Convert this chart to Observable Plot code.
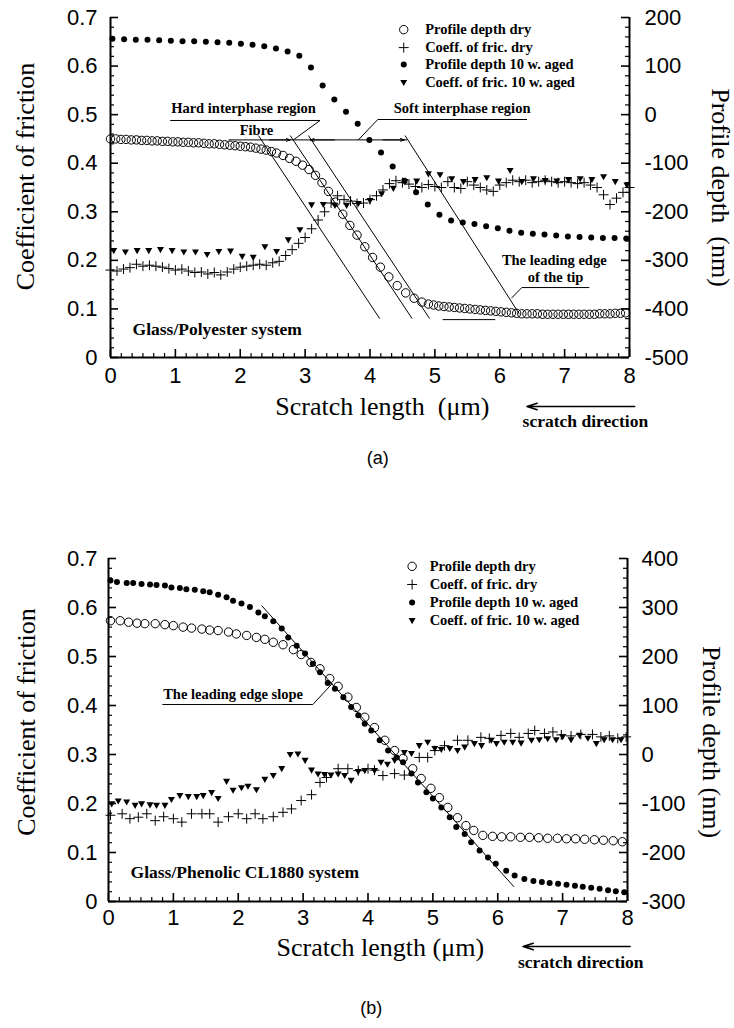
<!DOCTYPE html>
<html>
<head>
<meta charset="utf-8">
<script src="https://cdn.jsdelivr.net/npm/d3@7"></script>
<script src="https://cdn.jsdelivr.net/npm/@observablehq/plot@0.6"></script>
<style>
  body { margin: 0; background: #fff; }
  #chart { width: 734px; }
  #chart svg { display: block; }
</style>
</head>
<body>
<div id="chart"></div>
<script>
// ---------------- shared axis values ----------------
const xTickValues = [0, 1, 2, 3, 4, 5, 6, 7, 8];
const xTickLabels = ["0", "1", "2", "3", "4", "5", "6", "7", "8"];
const cofTickValues = [0, 0.1, 0.2, 0.3, 0.4, 0.5, 0.6, 0.7];
const cofTickLabels = ["0", "0.1", "0.2", "0.3", "0.4", "0.5", "0.6", "0.7"];
const depthTickValuesA = [-500, -400, -300, -200, -100, 0, 100, 200];
const depthTickLabelsA = ["-500", "-400", "-300", "-200", "-100", "0", "100", "200"];
const depthTickValuesB = [-300, -200, -100, 0, 100, 200, 300, 400];
const depthTickLabelsB = ["-300", "-200", "-100", "0", "100", "200", "300", "400"];
const seriesNames = ["Profile depth dry", "Coeff. of fric. dry", "Profile depth 10 w. aged", "Coeff. of fric. 10 w. aged"];

// ---------------- panel (a): Glass/Polyester ----------------
const aDryDepthX = [0,0.08,0.16,0.24,0.32,0.40,0.48,0.56,0.64,0.72,0.80,0.88,0.96,1.04,1.12,1.20,1.28,1.36,1.44,1.52,1.60,1.68,1.76,1.84,1.92,2.00,2.08,2.16,2.24,2.32,2.40,2.48,2.56,
  2.66,2.76,2.86,2.96,3.06,3.16,3.26,3.36,3.47,3.58,3.69,3.80,3.92,4.04,4.16,4.29,4.42,4.55,4.68,4.80,4.90,
  4.98,5.06,5.14,5.22,5.30,5.38,5.46,5.54,5.62,5.70,5.78,5.86,5.94,6.02,6.10,6.18,6.26,6.34,6.42,6.50,6.58,6.66,6.74,6.82,6.90,6.98,7.06,7.14,7.22,7.30,7.38,7.46,7.54,7.62,7.70,7.78,7.86,7.94];
const aDryDepthNm = [-50,-50,-51,-51,-52,-52,-53,-53,-54,-54,-55,-55,-56,-56,-57,-57,-58,-58,-59,-60,-60,-61,-62,-63,-64,-65,-66,-67,-69,-71,-73,-76,-79,
  -84,-90,-96,-104,-113,-125,-140,-158,-180,-205,-228,-248,-272,-294,-314,-334,-352,-367,-378,-386,-390,
  -392,-394,-395,-396,-397,-398,-399,-400,-401,-402,-403,-404,-405,-406,-407,-408,-409,-410,-410,-410,-410,-411,-411,-411,-411,-411,-411,-411,-411,-411,-411,-411,-410,-410,-410,-409,-409,-408];
const aAgedDepthX = [0.03,0.21,0.39,0.57,0.75,0.93,1.11,1.29,1.47,1.65,1.83,2.01,2.19,2.37,2.55,2.73,2.91,3.09,3.27,3.45,3.63,3.81,3.99,4.17,4.35,4.53,4.71,4.89,5.07,5.25,5.43,5.61,5.79,5.97,6.15,6.33,6.51,6.69,6.87,7.05,7.23,7.41,7.59,7.77,7.95];
const aAgedDepthNm = [156,155,154,154,153,152,151,151,150,149,148,146,144,141,136,130,121,97,60,31,6,-19,-52,-78,-107,-136,-160,-185,-206,-218,-222,-225,-230,-234,-239,-243,-245,-247,-249,-251,-252,-253,-254,-254,-255];
const aDryCofX = [0,0.1,0.2,0.3,0.4,0.5,0.6,0.7,0.8,0.9,1.0,1.1,1.2,1.3,1.4,1.5,1.6,1.7,1.8,1.9,2.0,2.1,2.2,2.3,2.4,2.5,2.6,2.7,2.8,2.9,3.0,3.1,3.2,3.3,3.4,3.5,3.6,3.7,3.8,3.9,4.0,4.1,4.2,4.3,4.4,4.5,4.6,4.7,4.8,4.9,5.0,5.1,5.2,5.3,5.4,5.5,5.6,5.7,5.8,5.9,6.0,6.1,6.2,6.3,6.4,6.5,6.6,6.7,6.8,6.9,7.0,7.1,7.2,7.3,7.4,7.5,7.6,7.7,7.8,7.9,8.0];
const aDryCof = [0.180,0.178,0.182,0.185,0.192,0.188,0.190,0.188,0.186,0.183,
  0.180,0.182,0.178,0.175,0.176,0.172,0.175,0.170,0.176,0.182,
  0.186,0.188,0.190,0.192,0.190,0.195,0.198,0.210,0.222,0.235,
  0.247,0.265,0.283,0.300,0.318,0.333,0.325,0.322,0.317,0.318,
  0.325,0.333,0.345,0.358,0.364,0.360,0.357,0.352,0.350,0.356,
  0.352,0.350,0.362,0.350,0.348,0.362,0.355,0.350,0.345,0.342,
  0.355,0.360,0.365,0.362,0.365,0.360,0.362,0.365,0.362,0.360,
  0.362,0.360,0.358,0.360,0.355,0.350,0.335,0.315,0.328,0.340,
  0.350];
const aAgedCofX = [0.05,0.23,0.41,0.59,0.77,0.95,1.13,1.31,1.49,1.67,1.85,2.03,2.20,2.38,2.56,2.74,2.92,3.10,3.28,3.46,3.64,3.82,4.00,4.18,4.36,4.54,4.72,4.90,5.08,5.26,5.44,5.62,5.80,5.98,6.16,6.34,6.52,6.70,6.88,7.06,7.24,7.42,7.60,7.78,7.96];
const aAgedCof = [0.220,0.217,0.220,0.220,0.222,0.220,0.217,0.217,0.212,0.218,0.219,0.208,0.206,0.228,0.218,0.242,0.263,0.314,0.315,0.313,0.313,0.317,0.323,0.337,0.348,0.362,0.363,0.378,0.376,0.368,0.362,0.366,0.370,0.363,0.385,0.362,0.368,0.364,0.363,0.366,0.368,0.366,0.372,0.362,0.355];

// ---------------- panel (b): Glass/Phenolic CL1880 ----------------
const bDryDepthX = [0.03,0.18,0.31,0.44,0.56,0.72,0.87,1.00,1.15,1.28,1.44,1.56,1.69,1.85,1.97,2.13,2.28,2.41,2.54,2.69,2.85,2.97,3.12,3.26,3.41,3.54,3.69,3.82,3.95,4.10,4.26,4.41,4.54,4.69,4.82,4.97,5.10,5.23,5.38,5.51,5.63,5.77,5.92,6.06,6.20,6.35,6.49,6.63,6.77,6.92,7.06,7.20,7.34,7.49,7.63,7.78,7.92];
const bDryDepthNm = [273,273,270,268,267,267,265,263,260,258,256,254,253,250,246,243,239,235,229,224,214,204,188,175,155,139,117,96,76,55,29,8,-8,-29,-49,-69,-88,-108,-129,-145,-155,-165,-167,-168,-168,-169,-169,-170,-171,-171,-172,-172,-173,-174,-175,-176,-178];
const bAgedDepthX = [0.03,0.13,0.28,0.38,0.51,0.64,0.74,0.87,0.97,1.10,1.20,1.33,1.46,1.56,1.69,1.82,1.92,2.05,2.18,2.31,2.41,2.54,2.67,2.77,2.90,3.03,3.15,3.26,3.38,3.49,3.62,3.74,3.85,3.95,4.05,4.18,4.31,4.44,4.54,4.67,4.77,4.90,5.00,5.13,5.26,5.36,5.49,5.59,5.72,5.85,5.97,6.13,6.26,6.41,6.55,6.68,6.80,6.93,7.06,7.19,7.31,7.44,7.57,7.70,7.82,7.95];
const bAgedDepthNm = [355,352,350,350,348,347,346,345,341,340,337,336,333,331,326,321,314,308,301,290,282,272,257,239,222,206,185,168,146,134,117,97,80,63,49,29,8,-6,-16,-39,-57,-77,-90,-108,-128,-148,-162,-179,-196,-210,-223,-237,-247,-254,-258,-260,-262,-264,-266,-268,-270,-272,-274,-277,-279,-281];
const bDryCofX = [0.03,0.21,0.33,0.46,0.59,0.72,0.85,1.00,1.13,1.28,1.44,1.56,1.69,1.85,2.00,2.13,2.26,2.38,2.54,2.69,2.82,2.97,3.13,3.26,3.36,3.54,3.69,3.85,4.00,4.10,4.23,4.41,4.56,4.79,4.92,5.03,5.18,5.38,5.54,5.74,5.87,6.05,6.20,6.33,6.47,6.57,6.72,6.85,6.98,7.13,7.28,7.46,7.59,7.72,7.85,7.98];
const bDryCof = [0.176,0.179,0.169,0.172,0.179,0.165,0.173,0.169,0.162,0.179,0.179,0.179,0.162,0.173,0.179,0.169,0.179,0.169,0.173,0.182,0.189,0.206,0.218,0.243,0.253,0.271,0.271,0.267,0.271,0.268,0.257,0.261,0.258,0.294,0.294,0.308,0.318,0.329,0.329,0.335,0.333,0.339,0.343,0.335,0.343,0.349,0.343,0.346,0.340,0.338,0.341,0.341,0.336,0.338,0.333,0.336];
const bAgedCofX = [0.05,0.15,0.28,0.41,0.51,0.64,0.74,0.87,0.97,1.10,1.23,1.36,1.46,1.59,1.69,1.82,1.92,2.05,2.15,2.28,2.41,2.54,2.67,2.80,2.92,3.03,3.13,3.23,3.33,3.43,3.54,3.64,3.74,3.85,3.95,4.10,4.20,4.30,4.41,4.56,4.67,4.79,4.92,5.03,5.13,5.26,5.38,5.49,5.64,5.75,5.90,5.98,6.10,6.23,6.36,6.52,6.64,6.77,6.90,7.00,7.13,7.26,7.39,7.52,7.64,7.77,7.90];
const bAgedCof = [0.199,0.205,0.203,0.196,0.199,0.197,0.196,0.196,0.208,0.216,0.214,0.214,0.216,0.222,0.210,0.245,0.227,0.232,0.235,0.228,0.249,0.257,0.271,0.300,0.301,0.288,0.268,0.260,0.259,0.258,0.260,0.257,0.247,0.265,0.267,0.267,0.284,0.280,0.288,0.304,0.302,0.318,0.325,0.312,0.310,0.312,0.308,0.315,0.322,0.318,0.329,0.322,0.325,0.325,0.323,0.329,0.330,0.332,0.330,0.336,0.330,0.339,0.333,0.322,0.330,0.330,0.330];

// ---------------- annotations (positions in data units) ----------------
const aGuideLines = [
  {x1: 2.28, y1: 0.457, x2: 4.15, y2: 0.08},
  {x1: 2.77, y1: 0.457, x2: 4.65, y2: 0.08},
  {x1: 3.05, y1: 0.457, x2: 4.92, y2: 0.08},
  {x1: 4.54, y1: 0.457, x2: 6.30, y2: 0.09},
  {x1: 1.82, y1: 0.448, x2: 4.57, y2: 0.448},
  {x1: 0.92, y1: 0.488, x2: 3.23, y2: 0.488},
  {x1: 3.23, y1: 0.488, x2: 2.82, y2: 0.448},
  {x1: 4.12, y1: 0.490, x2: 6.42, y2: 0.490},
  {x1: 4.12, y1: 0.490, x2: 3.82, y2: 0.448},
  {x1: 6.34, y1: 0.144, x2: 7.38, y2: 0.144},
  {x1: 6.34, y1: 0.144, x2: 6.18, y2: 0.122},
  {x1: 5.12, y1: 0.078, x2: 5.93, y2: 0.078}
];
const aDimArrows = [
  {x1: 2.45, y1: 0.448, x2: 2.77, y2: 0.448},
  {x1: 3.45, y1: 0.448, x2: 3.08, y2: 0.448},
  {x1: 4.20, y1: 0.448, x2: 4.53, y2: 0.448}
];
const aLabels = [
  {text: "Hard interphase region", x: 2.05, y: 0.512},
  {text: "Fibre", x: 2.25, y: 0.467},
  {text: "Soft interphase region", x: 5.42, y: 0.512},
  {text: "The leading edge", x: 6.84, y: 0.200},
  {text: "of the tip", x: 6.86, y: 0.165}
];
const bGuideLines = [
  {x1: 2.36, y1: 0.604, x2: 6.25, y2: 0.03},
  {x1: 0.83, y1: 0.402, x2: 3.15, y2: 0.402},
  {x1: 3.15, y1: 0.402, x2: 3.45, y2: 0.445}
];
const bLabels = [
  {text: "The leading edge slope", x: 1.92, y: 0.422}
];

const SERIF = "'Liberation Serif', 'Times New Roman', serif";
const SANS = "'Liberation Sans', Arial, Helvetica, sans-serif";

const triangleDown = {
  draw(context, size) {
    const r = Math.sqrt(size / Math.PI);
    context.moveTo(-r, -r * 0.75);
    context.lineTo(r, -r * 0.75);
    context.lineTo(0, r * 1.0);
    context.closePath();
  }
};

function makePanel(p) {
  const W = 734;
  const pw = W - p.ml - p.mr;
  const ph = p.h - p.mt - p.mb;
  const toY = nm => (nm - p.depthAtZero) / 1000;
  const rows = (xs, vs) => xs.map((x, i) => ({x, v: vs[i]}));
  const dryDepth = rows(p.dryDepthX, p.dryDepth);
  const agedDepth = rows(p.agedDepthX, p.agedDepth);
  const dryCof = rows(p.dryCofX, p.dryCof);
  const agedCof = rows(p.agedCofX, p.agedCof);
  const minorY = d3.range(0, 36).map(i => +(i * 0.02).toFixed(2)).filter(v => Math.abs(v * 10 - Math.round(v * 10)) > 1e-6);
  const minorX = d3.range(0, 49).map(i => i / 6).filter(v => Math.abs(v - Math.round(v)) > 1e-6);
  const legend = seriesNames.map((name, i) => ({name, i, y: p.legendY[i]}));
  const depthTicks = p.depthTicks.map((v, i) => ({y: toY(v), label: p.depthLabels[i]}));
  const cofTicks = cofTickValues.map((v, i) => ({y: v, label: cofTickLabels[i]}));
  const xTicks = xTickValues.map((v, i) => ({x: v, label: xTickLabels[i]}));
  const sym = [
    {symbol: "circle", r: 4.2, fill: "none", stroke: "black"},
    {symbol: "plus", r: 3.3, fill: "none", stroke: "black"},
    {symbol: "circle", r: 3.0, fill: "black", stroke: "none"},
    {symbol: triangleDown, r: 3.5, fill: "black", stroke: "none"}
  ];
  return Plot.plot({
    width: W,
    height: p.h,
    marginLeft: p.ml,
    marginRight: p.mr,
    marginTop: p.mt,
    marginBottom: p.mb,
    x: {domain: [0, 8], axis: null},
    y: {domain: [0, 0.7], axis: null},
    style: {fontFamily: SANS, background: "white", overflow: "visible"},
    marks: [
      // ticks (inward)
      Plot.tickY(minorY, {y: d => d, insetRight: pw - 4, stroke: "black", strokeWidth: 1.2}),
      Plot.tickY(cofTicks, {y: "y", insetRight: pw - 8, stroke: "black", strokeWidth: 1.6}),
      Plot.tickY(minorY, {y: d => d, insetLeft: pw - 4, stroke: "black", strokeWidth: 1.2}),
      Plot.tickY(depthTicks, {y: "y", insetLeft: pw - 8, stroke: "black", strokeWidth: 1.6}),
      Plot.tickX(minorX, {x: d => d, insetTop: ph - 4, stroke: "black", strokeWidth: 1.2}),
      Plot.tickX(xTicks, {x: "x", insetTop: ph - 8, stroke: "black", strokeWidth: 1.6}),
      // axis lines
      Plot.ruleX([0, 8], {y1: 0, y2: 0.7, stroke: "black", strokeWidth: 2}),
      Plot.ruleY([0], {stroke: "black", strokeWidth: 2}),
      // tick labels
      Plot.text(cofTicks, {y: "y", text: "label", frameAnchor: "left", dx: p.leftLabelDx, textAnchor: "end", fontSize: 22, fontFamily: SANS}),
      Plot.text(depthTicks, {y: "y", text: "label", frameAnchor: "right", dx: p.rightLabelDx, textAnchor: "start", fontSize: 22, fontFamily: SANS}),
      Plot.text(xTicks, {x: "x", text: "label", frameAnchor: "bottom", dy: p.xLabelDy, textAnchor: "middle", fontSize: 22, fontFamily: SANS}),
      // axis titles
      Plot.text(["Coefficient of friction"], {frameAnchor: "left", dx: p.leftTitleDx, dy: p.leftTitleDy, rotate: -90, textAnchor: "middle", fontSize: 26, fontFamily: SERIF}),
      Plot.text([p.rightTitle], {frameAnchor: "right", dx: p.rightTitleDx, dy: p.rightTitleDy, rotate: 90, textAnchor: "middle", fontSize: 26, fontFamily: SERIF}),
      Plot.text([p.xTitle], {x: p.xTitleX, frameAnchor: "bottom", dy: p.xTitleDy, textAnchor: "middle", fontSize: 26, fontFamily: SERIF}),
      // scratch direction
      Plot.arrow([0], {x1: p.dirArrow[1], x2: p.dirArrow[0], y1: 0, y2: 0, dy: p.dirArrowDy, stroke: "black", strokeWidth: 1.6, headLength: 10, headAngle: 35}),
      Plot.text(["scratch direction"], {x: p.dirTextX, frameAnchor: "bottom", dy: p.dirTextDy, textAnchor: "middle", fontSize: 17.5, fontWeight: "bold", fontFamily: SERIF}),
      // caption
      Plot.text([p.caption], {x: p.captionX, frameAnchor: "bottom", dy: p.captionDy, textAnchor: "middle", fontSize: 18, fontFamily: SANS}),
      // annotations
      Plot.link(p.guides, {x1: "x1", y1: "y1", x2: "x2", y2: "y2", stroke: "black", strokeWidth: 1}),
      Plot.arrow(p.dimArrows, {x1: "x1", y1: "y1", x2: "x2", y2: "y2", stroke: "black", strokeWidth: 1, headLength: 6, headAngle: 40}),
      Plot.text(p.labels, {x: "x", y: "y", text: "text", textAnchor: "middle", fontSize: 14.5, fontWeight: "bold", fontFamily: SERIF}),
      Plot.text([p.systemLabel], {x: p.systemX, y: p.systemY, textAnchor: "start", fontSize: 17.5, fontWeight: "bold", fontFamily: SERIF}),
      // data
      Plot.dot(dryDepth, {x: "x", y: d => toY(d.v), r: 4.2, stroke: "black", fill: "none", strokeWidth: 1}),
      Plot.dot(dryCof, {x: "x", y: "v", symbol: "plus", r: 3.3, stroke: "black", fill: "none", strokeWidth: 1}),
      Plot.dot(agedDepth, {x: "x", y: d => toY(d.v), r: 3.0, fill: "black", stroke: "none"}),
      Plot.dot(agedCof, {x: "x", y: "v", symbol: triangleDown, r: 3.5, fill: "black", stroke: "none"}),
      // legend
      ...sym.map((s, i) => Plot.dot([legend[i]], {x: p.legendSymX, y: "y", symbol: s.symbol, r: s.r, fill: s.fill, stroke: s.stroke, strokeWidth: 1})),
      Plot.text(legend, {x: p.legendTextX, y: "y", text: "name", textAnchor: "start", fontSize: 14.5, fontWeight: "bold", fontFamily: SERIF})
    ]
  });
}

const panelA = makePanel({
  h: 490, ml: 110, mr: 105, mt: 17, mb: 133,
  depthAtZero: -500,
  depthTicks: depthTickValuesA, depthLabels: depthTickLabelsA,
  dryDepthX: aDryDepthX, dryDepth: aDryDepthNm,
  agedDepthX: aAgedDepthX, agedDepth: aAgedDepthNm,
  dryCofX: aDryCofX, dryCof: aDryCof,
  agedCofX: aAgedCofX, agedCof: aAgedCof,
  leftLabelDx: -13, rightLabelDx: 15, xLabelDy: 25,
  leftTitleDx: -85, leftTitleDy: -11,
  rightTitle: "Profile depth\u00a0\u00a0(nm)", rightTitleDx: 91, rightTitleDy: 0,
  xTitle: "Scratch length\u00a0\u00a0(\u03bcm)", xTitleX: 4.19, xTitleDy: 57,
  dirArrow: [6.42, 8.08], dirArrowDy: 49, dirTextX: 7.32, dirTextDy: 69,
  caption: "(a)", captionX: 4.12, captionDy: 106,
  guides: aGuideLines, dimArrows: aDimArrows, labels: aLabels,
  systemLabel: "Glass/Polyester system", systemX: 0.34, systemY: 0.058,
  legendSymX: 4.52, legendTextX: 4.85, legendY: [0.675, 0.638, 0.603, 0.566]
});

const panelB = makePanel({
  h: 538, ml: 108, mr: 107, mt: 68, mb: 127,
  depthAtZero: -300,
  depthTicks: depthTickValuesB, depthLabels: depthTickLabelsB,
  dryDepthX: bDryDepthX, dryDepth: bDryDepthNm,
  agedDepthX: bAgedDepthX, agedDepth: bAgedDepthNm,
  dryCofX: bDryCofX, dryCof: bDryCof,
  agedCofX: bAgedCofX, agedCof: bAgedCof,
  leftLabelDx: -11, rightLabelDx: 14, xLabelDy: 23,
  leftTitleDx: -82, leftTitleDy: -8,
  rightTitle: "Profile depth (nm)", rightTitleDx: 84, rightTitleDy: 12,
  xTitle: "Scratch length (\u03bcm)", xTitleX: 4.19, xTitleDy: 54,
  dirArrow: [6.39, 8.04], dirArrowDy: 45, dirTextX: 7.28, dirTextDy: 66,
  caption: "(b)", captionX: 4.05, captionDy: 112,
  guides: bGuideLines, dimArrows: [], labels: bLabels,
  systemLabel: "Glass/Phenolic CL1880 system", systemX: 0.34, systemY: 0.06,
  legendSymX: 4.68, legendTextX: 4.95, legendY: [0.684, 0.647, 0.610, 0.573]
});

const chart = document.getElementById("chart");
chart.appendChild(panelA);
chart.appendChild(panelB);
</script>
</body>
</html>
